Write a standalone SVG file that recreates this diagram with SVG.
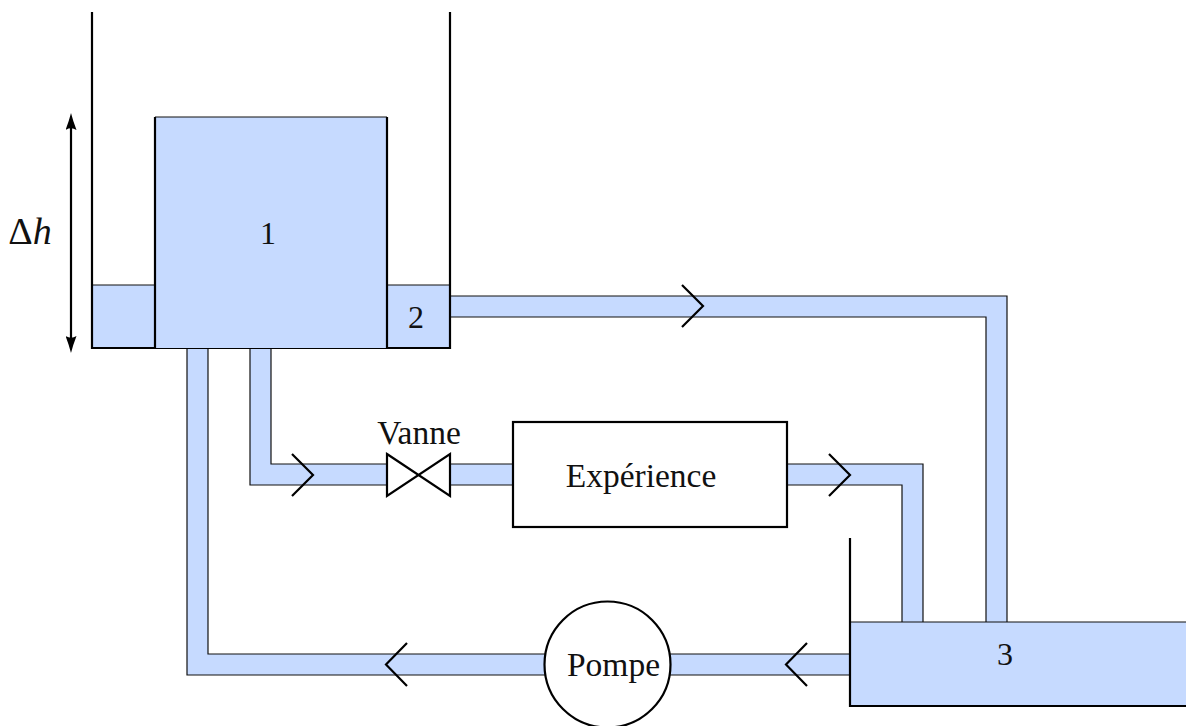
<svg xmlns="http://www.w3.org/2000/svg" width="1186" height="726" viewBox="0 0 1186 726">
<style>
.water{fill:#c6daff;stroke:none}
.pipe{fill:none;stroke:#111;stroke-width:1.2}
.wall{fill:none;stroke:#000;stroke-width:2.2}
.chev{fill:none;stroke:#000;stroke-width:2.2}
.box{fill:#fff;stroke:#000;stroke-width:2.2}
.num{font-size:32px}
text{font-family:"Liberation Serif","Times New Roman",serif;font-size:33.500px;fill:#111;text-anchor:middle}
</style>
<defs>
<marker id="tip" markerUnits="userSpaceOnUse" markerWidth="17" markerHeight="11" refX="8" refY="5.500" orient="auto-start-reverse" viewBox="0 0 17 11"><path d="M0 0Q9 3.500 17 5.500Q9 7.500 0 11Q3.500 5.500 0 0Z" fill="#000"/></marker>
</defs>
<rect width="1186" height="726" fill="#fff"/>
<g id="connectors">
<path class="water" d="M450 296H1007V622H986V317H450Z"/>
<path class="pipe" d="M450 296H1007V622M986 622V317H450"/>
<path class="water" d="M250 348H271V464H387V485H250Z"/>
<path class="water" d="M450 464H513V485H450Z"/>
<path class="pipe" d="M250 348V485H387M271 348V464H387M450 464H513M450 485H513"/>
<path class="water" d="M787 464H923V622H902V485H787Z"/>
<path class="pipe" d="M787 464H923V622M902 622V485H787"/>
<path class="water" d="M187 348H208V654H850V675H187Z"/>
<path class="pipe" d="M187 348V675H850M208 348V654H850"/>
<path class="chev" d="M682 285L703 306L682 327"/>
<path class="chev" d="M292 454L313 475L292 496"/>
<path class="chev" d="M829 454L850 475L829 496"/>
<path class="chev" d="M407 643L386 664.500L407 686"/>
<path class="chev" d="M807 643L786 664.500L807 686"/>
<path id="delta-h-arrow" d="M71 122V344" fill="none" stroke="#000" stroke-width="2.200" marker-start="url(#tip)" marker-end="url(#tip)"/>
</g>
<g id="tank-top">
<path class="water" d="M92 285H450V348H92Z"/>
<path class="pipe" d="M92 285H450"/>
<path class="wall" d="M92 12V348H450V12"/>
</g>
<g id="node-1">
<rect x="155" y="117" width="232" height="231" class="water"/>
<path class="pipe" d="M155 117H387"/>
<path class="wall" d="M155 348V117M387 117V348"/>
<text class="num" x="268" y="244">1</text>
</g>
<text id="label-2" class="num" x="416" y="328">2</text>
<text id="label-delta-h" x="30" y="244" style="font-size:38px">Δ<tspan font-style="italic">h</tspan></text>
<g id="tank-3">
<rect x="850" y="622" width="336" height="84" class="water"/>
<path class="pipe" d="M850 622H1186"/>
<path class="wall" d="M850 538V706H1186"/>
<text class="num" x="1005" y="665">3</text>
</g>
<g id="valve">
<path class="box" d="M387 454L450 496V454L387 496Z"/>
<text x="419" y="444">Vanne</text>
</g>
<g id="experience">
<rect x="513" y="422" width="274" height="105" class="box"/>
<text x="641" y="487">Expérience</text>
</g>
<g id="pump">
<circle cx="607.500" cy="664.500" r="63" class="box"/>
<text x="613.500" y="676">Pompe</text>
</g>
</svg>
